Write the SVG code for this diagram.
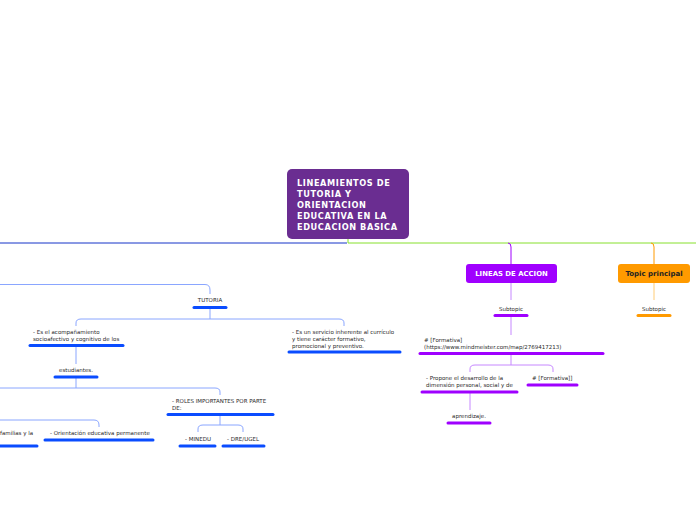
<svg xmlns="http://www.w3.org/2000/svg" width="696" height="520" viewBox="0 0 696 520">
<style>
.t{font-family:"DejaVu Sans","Verdana",sans-serif;font-size:5.5px;fill:#2a2a2a}
.c{text-anchor:middle}
.hb{font-family:"DejaVu Sans",sans-serif;font-weight:bold}
.ub{stroke:#0a4cff;stroke-width:3;stroke-linecap:round}
.up{stroke:#9f00ff;stroke-width:3;stroke-linecap:round}
.uo{stroke:#ff9a00;stroke-width:3;stroke-linecap:round}
.cb{fill:none;stroke:#8aa6ff;stroke-width:1}
.cp{fill:none;stroke:#c688ff;stroke-width:1}
.co{fill:none;stroke:#ffcc77;stroke-width:1}
</style>
<rect width="696" height="520" fill="#fff"/>
<g id="connectors">
<path d="M0 243 H347" stroke="#1533c8" stroke-width="1" fill="none"/>
<path d="M348 238 V243 H696" stroke="#86e02c" stroke-width="1" fill="none"/>
<path d="M508 243 Q511 243 511 247 V264" fill="none" stroke="#a000ff" stroke-width="1"/>
<path d="M651 243 Q654 243 654 247 V264" fill="none" stroke="#ff9a00" stroke-width="1"/>
<path class="cp" d="M511 282 V300"/>
<path class="co" d="M654 282 V300"/>
<path class="cp" d="M511 316 V335"/>
<path class="cp" d="M511 354 V365 M470 372 V369 Q470 365 475 365 H548 Q553 365 553 369 V372"/>
<path class="cp" d="M470 393 V410"/>
<path class="cb" d="M0 284.5 H205 Q210 284.5 210 290 V294"/>
<path class="cb" d="M210 308 V319 M76 326 V323 Q76 319 81 319 H339 Q344 319 344 323 V326"/>
<path class="cb" d="M76 346 V364"/>
<path class="cb" d="M76 378 V388 M0 388 H215 Q220 388 220 392 V395"/>
<path class="cb" d="M220 415 V425 M198 432 V429 Q198 425 203 425 H238 Q243 425 243 429 V432"/>
<path class="cb" d="M0 420 H94 Q99 420 99 425 V427"/>
</g>
<g id="central">
<rect x="287" y="169" width="122" height="70" rx="5" fill="#6a2d91"/>
<g class="hb" font-size="8.2" fill="#fff" letter-spacing="0.6">
<text x="297" y="186">LINEAMIENTOS DE</text>
<text x="297" y="197">TUTORIA Y</text>
<text x="297" y="208">ORIENTACION</text>
<text x="297" y="219">EDUCATIVA EN LA</text>
<text x="297" y="230">EDUCACION BASICA</text>
</g>
</g>
<g id="lineas">
<rect x="466" y="264" width="91" height="19" rx="3" fill="#a000ff"/>
<text class="hb c" font-size="6.9" fill="#fff" x="511.5" y="276">LINEAS DE ACCION</text>
</g>
<g id="topic">
<rect x="618" y="264" width="72" height="19" rx="3" fill="#ff9a00"/>
<text class="hb c" font-size="7" fill="#222" x="654" y="276">Topic principal</text>
</g>
<g id="sub1"><text class="t c" x="511" y="311">Subtopic</text><line class="up" x1="495" y1="315.5" x2="527" y2="315.5"/></g>
<g id="sub2"><text class="t c" x="654" y="311">Subtopic</text><line class="uo" x1="638" y1="315.5" x2="670" y2="315.5"/></g>
<g id="formativa1"><text class="t" x="424" y="342">#  [Formativa]</text><text class="t" x="424" y="349">(https://www.mindmeister.com/map/2769417213)</text><line class="up" x1="420" y1="353.5" x2="603" y2="353.5"/></g>
<g id="propone"><text class="t" x="426" y="380">- Propone el desarrollo de la</text><text class="t" x="426" y="387">dimensión personal, social y de</text><line class="up" x1="422" y1="392" x2="517" y2="392"/></g>
<g id="formativa2"><text class="t" x="532" y="380">#  [Formativa]]</text><line class="up" x1="528" y1="385" x2="577" y2="385"/></g>
<g id="aprendizaje"><text class="t c" x="469" y="418">aprendizaje.</text><line class="up" x1="448" y1="423" x2="490" y2="423"/></g>
<g id="tutoria"><text class="t c" x="210" y="302">TUTORIA</text><line class="ub" x1="194" y1="307.5" x2="226" y2="307.5"/></g>
<g id="acomp"><text class="t" x="33" y="334">- Es el acompañamiento</text><text class="t" x="33" y="341">socioafectivo y cognitivo de los</text><line class="ub" x1="30" y1="345.5" x2="123" y2="345.5"/></g>
<g id="servicio"><text class="t" x="292" y="334">- Es un servicio inherente al currículo</text><text class="t" x="292" y="341">y tiene carácter formativo,</text><text class="t" x="292" y="348">promocional y preventivo.</text><line class="ub" x1="289" y1="352" x2="400" y2="352"/></g>
<g id="estudiantes"><text class="t c" x="76" y="372">estudiantes.</text><line class="ub" x1="55" y1="377" x2="97" y2="377"/></g>
<g id="roles"><text class="t" x="172" y="403">- ROLES IMPORTANTES POR PARTE</text><text class="t" x="172" y="410">DE:</text><line class="ub" x1="168" y1="414.5" x2="273" y2="414.5"/></g>
<g id="minedu"><text class="t c" x="198" y="441">- MINEDU</text><line class="ub" x1="180" y1="446" x2="215" y2="446"/></g>
<g id="dre"><text class="t c" x="243" y="441">- DRE/UGEL</text><line class="ub" x1="223" y1="446" x2="264" y2="446"/></g>
<g id="orientacion"><text class="t" x="50" y="435">- Orientación educativa permanente</text><line class="ub" x1="45" y1="440" x2="153" y2="440"/></g>
<g id="familias"><text class="t" x="0" y="435">familias y la</text><line class="ub" x1="-2" y1="446" x2="37" y2="446"/></g>
</svg>
